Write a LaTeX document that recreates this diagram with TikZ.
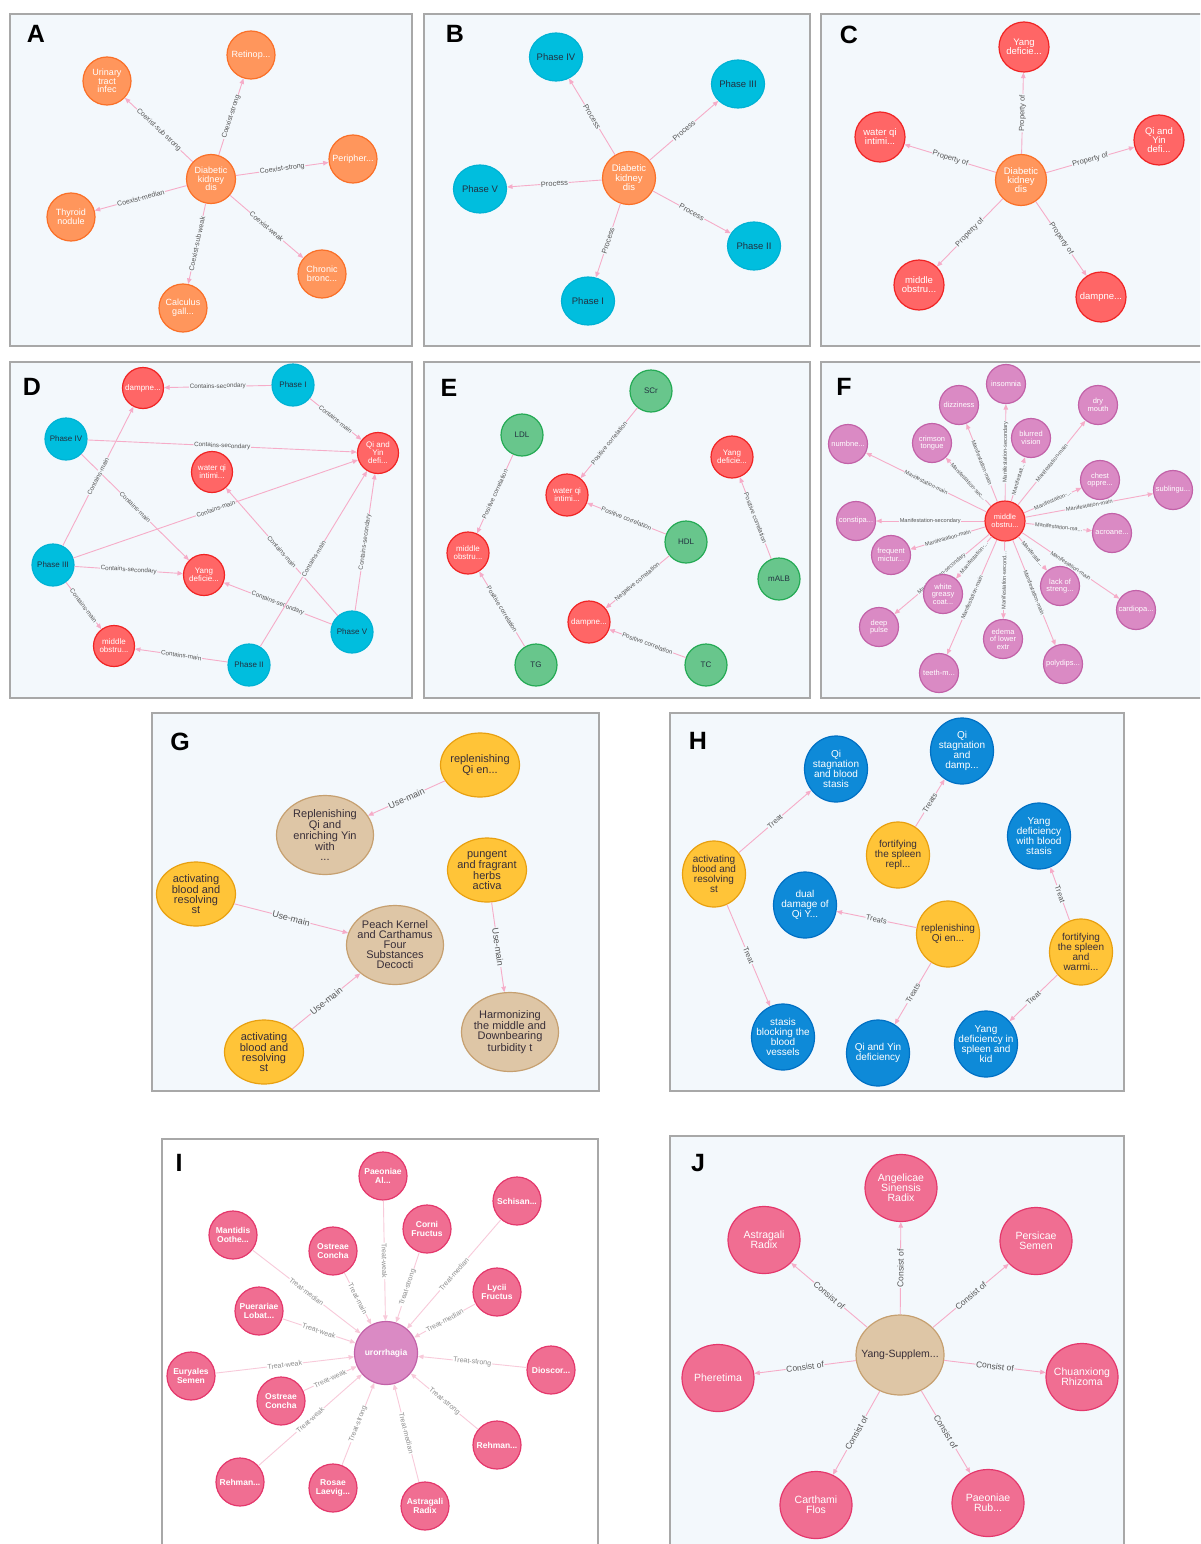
\documentclass[tikz,border=0pt]{standalone}
\usepackage{fontspec}
\setmainfont{Liberation Sans}
\setsansfont{Liberation Sans}
\usetikzlibrary{arrows.meta,shapes.geometric}

\definecolor{panelbg}{RGB}{243,248,252}
\definecolor{panelframe}{RGB}{168,168,168}
\definecolor{edgepink}{RGB}{246,172,200}
\definecolor{edgepale}{RGB}{248,202,218}
\definecolor{labgray}{RGB}{85,85,85}
\definecolor{labpale}{RGB}{140,140,140}
\definecolor{orgfill}{RGB}{255,150,92}
\definecolor{orgdraw}{RGB}{250,112,40}
\definecolor{cyanfill}{RGB}{0,190,222}
\definecolor{cyandraw}{RGB}{0,178,212}
\definecolor{redfill}{RGB}{255,102,102}
\definecolor{reddraw}{RGB}{240,36,36}
\definecolor{grnfill}{RGB}{104,198,140}
\definecolor{grndraw}{RGB}{36,170,84}
\definecolor{orchfill}{RGB}{218,138,196}
\definecolor{orchdraw}{RGB}{194,98,168}
\definecolor{goldfill}{RGB}{255,196,56}
\definecolor{golddraw}{RGB}{232,160,16}
\definecolor{tanfill}{RGB}{222,198,166}
\definecolor{tandraw}{RGB}{198,160,112}
\definecolor{bluefill}{RGB}{14,138,216}
\definecolor{bluedraw}{RGB}{0,112,196}
\definecolor{pinkfill}{RGB}{240,110,146}
\definecolor{pinkdraw}{RGB}{228,56,108}
\definecolor{darktext}{RGB}{34,48,64}
\definecolor{browntext}{RGB}{56,46,56}

\tikzset{
  panel/.style={fill=panelbg, draw=panelframe, line width=1.5pt},
  tag/.style={font=\fontsize{25}{25}\selectfont\bfseries, inner sep=0pt},
  nodefont/.style={font=\fontsize{9}{8.7}\selectfont},
  edgefont/.style={font=\fontsize{7}{7}\selectfont},
  lbltxt/.style={align=center, inner sep=0pt, nodefont},
  wt/.style={label={[lbltxt,text=white]center:{#1}}},
  dk/.style={label={[lbltxt,text=darktext]center:{#1}}},
  bk/.style={label={[lbltxt,text=browntext]center:{#1}}},
  disc/.style={circle, inner sep=0pt, line width=1.2pt, minimum size=#1},
  oval/.style 2 args={ellipse, inner sep=0pt, line width=1.2pt, minimum width=#1, minimum height=#2},
  orangeN/.style={fill=orgfill, draw=orgdraw},
  cyanN/.style={fill=cyanfill, draw=cyandraw},
  redN/.style={fill=redfill, draw=reddraw},
  greenN/.style={fill=grnfill, draw=grndraw},
  orchN/.style={fill=orchfill, draw=orchdraw},
  goldN/.style={fill=goldfill, draw=golddraw},
  tanN/.style={fill=tanfill, draw=tandraw},
  blueN/.style={fill=bluefill, draw=bluedraw},
  pinkN/.style={fill=pinkfill, draw=pinkdraw},
  edge/.style={draw=edgepink, line width=0.9pt, -{Triangle[length=5.5pt,width=4.5pt]}},
  elab/.style={sloped, fill=panelbg, inner sep=0.7pt, text=labgray, edgefont},
}

\begin{document}
\begin{tikzpicture}[x=1pt,y=-1pt]
\useasboundingbox (0,0) rectangle (1200,1544);
\clip (0,0) rectangle (1200,1544);
\fill[white] (0,0) rectangle (1200,1544);

% ---------- frames ----------
\draw[panel] (10,14) rectangle (412,346);
\draw[panel] (424,14) rectangle (810,346);
\draw[panel] (821,14) rectangle (1212,346);
\draw[panel] (10,362) rectangle (412,698);
\draw[panel] (424,362) rectangle (810,698);
\draw[panel] (821,362) rectangle (1212,698);
\draw[panel] (152,713) rectangle (599,1091);
\draw[panel] (670,713) rectangle (1124,1091);
\draw[panel, fill=white] (162,1139) rectangle (598,1560);
\draw[panel] (670,1136) rectangle (1124,1560);

% ---------- A: comorbidities ----------
\begin{scope}[nodefont/.style={font=\fontsize{9}{8.7}\selectfont}, edgefont/.style={font=\fontsize{7}{7}\selectfont}]
\node[tag] (tagA) at (36,34) {A};
\node[disc=49pt, orangeN, wt={Diabetic\\kidney\\dis}] (aC) at (211,179) {};
\node[disc=48pt, orangeN, wt={Retinop...}] (aR) at (251,55) {};
\node[disc=48pt, orangeN, wt={Urinary\\tract\\infec}] (aU) at (107,81) {};
\node[disc=48pt, orangeN, wt={Peripher...}] (aP) at (353,159) {};
\node[disc=48pt, orangeN, wt={Thyroid\\nodule}] (aT) at (71,217) {};
\node[disc=48pt, orangeN, wt={Chronic\\bronc...}] (aB) at (322,274) {};
\node[disc=48pt, orangeN, wt={Calculus\\gall...}] (aG) at (183,308) {};
\draw[edge] (aC) -- node[elab]{Coexist-strong} (aR);
\draw[edge] (aC) -- node[elab]{Coexist-sub strong} (aU);
\draw[edge] (aC) -- node[elab]{Coexist-strong} (aP);
\draw[edge] (aC) -- node[elab]{Coexist-median} (aT);
\draw[edge] (aC) -- node[elab]{Coexist-weak} (aB);
\draw[edge] (aC) -- node[elab]{Coexist-sub weak} (aG);
\end{scope}

% ---------- B: phases ----------
\begin{scope}[nodefont/.style={font=\fontsize{9.5}{9.5}\selectfont}, edgefont/.style={font=\fontsize{7.5}{7.5}\selectfont}]
\node[tag] (tagB) at (455,34) {B};
\node[disc=53pt, orangeN, wt={Diabetic\\kidney\\dis}] (bC) at (629,178) {};
\node[oval={53pt}{48pt}, cyanN, dk={Phase IV}] (bP4) at (556,57) {};
\node[oval={53pt}{48pt}, cyanN, dk={Phase III}] (bP3) at (738,84) {};
\node[oval={53pt}{48pt}, cyanN, dk={Phase V}] (bP5) at (480,189) {};
\node[oval={53pt}{48pt}, cyanN, dk={Phase II}] (bP2) at (754,246) {};
\node[oval={53pt}{48pt}, cyanN, dk={Phase I}] (bP1) at (588,301) {};
\draw[edge] (bC) -- node[elab]{Process} (bP4);
\draw[edge] (bC) -- node[elab]{Process} (bP3);
\draw[edge] (bC) -- node[elab]{Process} (bP5);
\draw[edge] (bC) -- node[elab]{Process} (bP2);
\draw[edge] (bC) -- node[elab]{Process} (bP1);
\end{scope}

% ---------- C: syndrome types ----------
\begin{scope}[nodefont/.style={font=\fontsize{9.5}{9}\selectfont}, edgefont/.style={font=\fontsize{7.5}{7.5}\selectfont}]
\node[tag] (tagC) at (849,35) {C};
\node[disc=51pt, orangeN, wt={Diabetic\\kidney\\dis}] (cC) at (1021,180) {};
\node[disc=50pt, redN, wt={Yang\\deficie...}] (cY) at (1024,47) {};
\node[disc=50pt, redN, wt={water qi\\intimi...}] (cW) at (880,137) {};
\node[disc=50pt, redN, wt={Qi and\\Yin\\defi...}] (cQ) at (1159,140) {};
\node[disc=50pt, redN, wt={middle\\obstru...}] (cM) at (919,285) {};
\node[disc=50pt, redN, wt={dampne...}] (cD) at (1101,297) {};
\draw[edge] (cC) -- node[elab]{Property of} (cY);
\draw[edge] (cC) -- node[elab]{Property of} (cW);
\draw[edge] (cC) -- node[elab]{Property of} (cQ);
\draw[edge] (cC) -- node[elab]{Property of} (cM);
\draw[edge] (cC) -- node[elab]{Property of} (cD);
\end{scope}

% ---------- D: phases and syndromes ----------
\begin{scope}[nodefont/.style={font=\fontsize{8}{8}\selectfont}, edgefont/.style={font=\fontsize{6.3}{6.3}\selectfont}]
\node[tag] (tagD) at (32,387) {D};
\node[disc=41pt, redN, wt={dampne...}] (dD) at (143,388) {};
\node[disc=42pt, cyanN, dk={Phase I}] (dP1) at (293,385) {};
\node[disc=42pt, cyanN, dk={Phase IV}] (dP4) at (66,439) {};
\node[disc=41pt, redN, wt={Qi and\\Yin\\defi...}] (dQ) at (378,453) {};
\node[disc=41pt, redN, wt={water qi\\intimi...}] (dW) at (212,472) {};
\node[disc=42pt, cyanN, dk={Phase III}] (dP3) at (53,565) {};
\node[disc=41pt, redN, wt={Yang\\deficie...}] (dY) at (204,575) {};
\node[disc=41pt, redN, wt={middle\\obstru...}] (dM) at (114,646) {};
\node[disc=42pt, cyanN, dk={Phase II}] (dP2) at (249,665) {};
\node[disc=42pt, cyanN, dk={Phase V}] (dP5) at (352,632) {};
\draw[edge] (dP1) -- node[elab]{Contains-secondary} (dD);
\draw[edge] (dP1) -- node[elab]{Contains-main} (dQ);
\draw[edge] (dP4) -- node[elab]{Contains-secondary} (dQ);
\draw[edge] (dP4) -- node[elab]{Contains-main} (dY);
\draw[edge] (dP3) -- node[elab]{Contains-main} (dD);
\draw[edge] (dP3) -- node[elab]{Contains-main} (dQ);
\draw[edge] (dP3) -- node[elab]{Contains-secondary} (dY);
\draw[edge] (dP3) -- node[elab]{Contains-main} (dM);
\draw[edge] (dP5) -- node[elab]{Contains-main} (dW);
\draw[edge] (dP5) -- node[elab]{Contains-secondary} (dY);
\draw[edge] (dP5) -- node[elab]{Contains-secondary} (dQ);
\draw[edge] (dP2) -- node[elab]{Contains-main} (dM);
\draw[edge] (dP2) -- node[elab]{Contains-main} (dQ);
\end{scope}

% ---------- E: lab indicators ----------
\begin{scope}[nodefont/.style={font=\fontsize{8}{8}\selectfont}, edgefont/.style={font=\fontsize{6.3}{6.3}\selectfont}]
\node[tag] (tagE) at (449,388) {E};
\node[disc=42pt, greenN, dk={SCr}] (eS) at (651,391) {};
\node[disc=42pt, greenN, dk={LDL}] (eL) at (522,435) {};
\node[disc=42pt, redN, wt={Yang\\deficie...}] (eY) at (732,457) {};
\node[disc=42pt, redN, wt={water qi\\intimi...}] (eW) at (567,495) {};
\node[disc=42pt, greenN, dk={HDL}] (eH) at (686,542) {};
\node[disc=42pt, redN, wt={middle\\obstru...}] (eM) at (468,553) {};
\node[disc=42pt, greenN, dk={mALB}] (eA) at (779,579) {};
\node[disc=42pt, redN, wt={dampne...}] (eD) at (589,622) {};
\node[disc=42pt, greenN, dk={TG}] (eT) at (536,665) {};
\node[disc=42pt, greenN, dk={TC}] (eC) at (706,665) {};
\draw[edge] (eS) -- node[elab]{Positive correlation} (eW);
\draw[edge] (eL) -- node[elab]{Positive correlation} (eM);
\draw[edge] (eH) -- node[elab]{Positive correlation} (eW);
\draw[edge] (eH) -- node[elab]{Negative correlation} (eD);
\draw[edge] (eA) -- node[elab]{Positive correlation} (eY);
\draw[edge] (eT) -- node[elab]{Positive correlation} (eM);
\draw[edge] (eC) -- node[elab]{Positive correlation} (eD);
\end{scope}

% ---------- F: manifestations ----------
\begin{scope}[nodefont/.style={font=\fontsize{7.5}{7.5}\selectfont}, edgefont/.style={font=\fontsize{5.6}{5.6}\selectfont}]
\node[tag] (tagF) at (844,387) {F};
\node[disc=40pt, redN, wt={middle\\obstru...}] (fC) at (1005,521) {};
\node[disc=39pt, orchN, wt={insomnia}] (f1) at (1006,384) {};
\node[disc=39pt, orchN, wt={dizziness}] (f2) at (959,405) {};
\node[disc=39pt, orchN, wt={crimson\\tongue}] (f3) at (932,443) {};
\node[disc=39pt, orchN, wt={numbne...}] (f4) at (848,444) {};
\node[disc=39pt, orchN, wt={constipa...}] (f5) at (856,521) {};
\node[disc=39pt, orchN, wt={frequent\\mictur...}] (f6) at (891,555) {};
\node[disc=39pt, orchN, wt={deep\\pulse}] (f8) at (879,627) {};
\node[disc=39pt, orchN, wt={teeth-m...}] (f9) at (939,673) {};
\node[disc=39pt, orchN, wt={edema\\of lower\\extr}] (f10) at (1003,639) {};
\node[disc=39pt, orchN, wt={blurred\\vision}] (f11) at (1031,438) {};
\node[disc=39pt, orchN, wt={dry\\mouth}] (f12) at (1098,405) {};
\node[disc=39pt, orchN, wt={chest\\oppre...}] (f13) at (1100,480) {};
\node[disc=39pt, orchN, wt={sublingu...}] (f14) at (1173,490) {};
\node[disc=39pt, orchN, wt={acroane...}] (f15) at (1112,533) {};
\node[disc=39pt, orchN, wt={lack of\\streng...}] (f16) at (1060,586) {};
\node[disc=39pt, orchN, wt={cardiopa...}] (f17) at (1136,610) {};
\node[disc=39pt, orchN, wt={polydips...}] (f18) at (1063,664) {};
\draw[edge] (fC) -- node[elab]{Manifestation-secondary} (f1);
\draw[edge] (fC) -- node[elab]{Manifestation-main} (f2);
\draw[edge] (fC) -- node[elab]{Manifestation-sec...} (f3);
\draw[edge] (fC) -- node[elab]{Manifestation-main} (f4);
\draw[edge] (fC) -- node[elab]{Manifestation-secondary} (f5);
\draw[edge] (fC) -- node[elab]{Manifestation-main} (f6);
\draw[edge] (fC) -- node[elab]{Manifestation-secondary} (f8);
\draw[edge] (fC) -- node[elab]{Manifestation-main} (f9);
\draw[edge] (fC) -- node[elab]{Manifestation-second...} (f10);
\draw[edge] (fC) -- node[elab]{Manifestati...} (f11);
\draw[edge] (fC) -- node[elab]{Manifestation-main} (f12);
\draw[edge] (fC) -- node[elab]{Manifestation-...} (f13);
\draw[edge] (fC) -- node[elab]{Manifestation-main} (f14);
\draw[edge] (fC) -- node[elab]{Manifestation-ma...} (f15);
\draw[edge] (fC) -- node[elab]{Manifestat...} (f16);
\draw[edge] (fC) -- node[elab]{Manifestation-main} (f17);
\draw[edge] (fC) -- node[elab]{Manifestation-main} (f18);
\node[disc=39pt, orchN, wt={white\\greasy\\coat...}] (f7) at (943,594) {};
\draw[edge] (fC) -- node[elab]{Manifestation-...} (f7);
\end{scope}

% ---------- G: therapies and formulas ----------
\begin{scope}[nodefont/.style={font=\fontsize{11}{10}\selectfont}, edgefont/.style={font=\fontsize{9}{9}\selectfont}]
\node[tag] (tagG) at (180,742) {G};
\node[oval={79pt}{64pt}, goldN, bk={replenishing\\Qi en...}] (gR1) at (480,765) {};
\node[oval={97pt}{79pt}, tanN, bk={Replenishing\\Qi and\\enriching Yin\\with\\...}] (gR2) at (325,835) {};
\node[oval={79pt}{64pt}, goldN, bk={pungent\\and fragrant\\herbs\\activa}] (gP) at (487,870) {};
\node[oval={79pt}{64pt}, goldN, bk={activating\\blood and\\resolving\\st}] (gA1) at (196,894) {};
\node[oval={97pt}{79pt}, tanN, bk={Peach Kernel\\and Carthamus\\Four\\Substances\\Decocti}] (gK) at (395,945) {};
\node[oval={79pt}{64pt}, goldN, bk={activating\\blood and\\resolving\\st}] (gA2) at (264,1052) {};
\node[oval={97pt}{79pt}, tanN, bk={Harmonizing\\the middle and\\Downbearing\\turbidity t}] (gH) at (510,1032) {};
\draw[edge] (gR1) -- node[elab]{Use-main} (gR2);
\draw[edge] (gA1) -- node[elab]{Use-main} (gK);
\draw[edge] (gA2) -- node[elab]{Use-main} (gK);
\draw[edge] (gP) -- node[elab]{Use-main} (gH);
\end{scope}

% ---------- H: therapies and syndromes ----------
\begin{scope}[nodefont/.style={font=\fontsize{10}{10}\selectfont}, edgefont/.style={font=\fontsize{7.5}{7.5}\selectfont}]
\node[tag] (tagH) at (698,741) {H};
\node[oval={63pt}{66pt}, blueN, wt={Qi\\stagnation\\and blood\\stasis}] (hQ1) at (836,769) {};
\node[oval={63pt}{66pt}, blueN, wt={Qi\\stagnation\\and\\damp...}] (hQ2) at (962,751) {};
\node[oval={63pt}{66pt}, blueN, wt={Yang\\deficiency\\with blood\\stasis}] (hY1) at (1039,836) {};
\node[oval={63pt}{66pt}, goldN, bk={activating\\blood and\\resolving\\st}] (hA) at (714,874) {};
\node[oval={63pt}{66pt}, goldN, bk={fortifying\\the spleen\\repl...}] (hF1) at (898,855) {};
\node[oval={63pt}{66pt}, blueN, wt={dual\\damage of\\Qi Y...}] (hD) at (805,905) {};
\node[oval={63pt}{66pt}, goldN, bk={replenishing\\Qi en...}] (hR) at (948,934) {};
\node[oval={63pt}{66pt}, goldN, bk={fortifying\\the spleen\\and\\warmi...}] (hF2) at (1081,952) {};
\node[oval={63pt}{66pt}, blueN, wt={stasis\\blocking the\\blood\\vessels}] (hS) at (783,1037) {};
\node[oval={63pt}{66pt}, blueN, wt={Qi and Yin\\deficiency}] (hQY) at (878,1053) {};
\node[oval={63pt}{66pt}, blueN, wt={Yang\\deficiency in\\spleen and\\kid}] (hY2) at (986,1044) {};
\draw[edge] (hA) -- node[elab]{Treat} (hQ1);
\draw[edge] (hA) -- node[elab]{Treat} (hS);
\draw[edge] (hF1) -- node[elab]{Treats} (hQ2);
\draw[edge] (hR) -- node[elab]{Treats} (hD);
\draw[edge] (hR) -- node[elab]{Treats} (hQY);
\draw[edge] (hF2) -- node[elab]{Treat} (hY1);
\draw[edge] (hF2) -- node[elab]{Treat} (hY2);
\end{scope}

% ---------- I: herbs for urorrhagia ----------
\begin{scope}[nodefont/.style={font=\fontsize{8.5}{9.3}\selectfont\bfseries}, edgefont/.style={font=\fontsize{7}{7}\selectfont},
  edge/.append style={draw=edgepale}, elab/.append style={fill=white, text=labpale}]
\node[tag] (tagI) at (179,1163) {I};
\node[disc=63pt, orchN, wt={urorrhagia}] (iC) at (386,1353) {};
\node[disc=48pt, pinkN, wt={Paeoniae\\Al...}] (iPa) at (383,1176) {};
\node[disc=48pt, pinkN, wt={Schisan...}] (iSc) at (517,1201) {};
\node[disc=48pt, pinkN, wt={Corni\\Fructus}] (iCo) at (427,1229) {};
\node[disc=48pt, pinkN, wt={Lycii\\Fructus}] (iLy) at (497,1292) {};
\node[disc=48pt, pinkN, wt={Dioscor...}] (iDi) at (551,1370) {};
\node[disc=48pt, pinkN, wt={Rehman...}] (iRr) at (497,1445) {};
\node[disc=48pt, pinkN, wt={Astragali\\Radix}] (iAs) at (425,1506) {};
\node[disc=48pt, pinkN, wt={Rosae\\Laevig...}] (iRo) at (333,1488) {};
\node[disc=48pt, pinkN, wt={Rehman...}] (iRl) at (240,1482) {};
\node[disc=48pt, pinkN, wt={Ostreae\\Concha}] (iO2) at (281,1401) {};
\node[disc=48pt, pinkN, wt={Euryales\\Semen}] (iEu) at (191,1376) {};
\node[disc=48pt, pinkN, wt={Puerariae\\Lobat...}] (iPu) at (259,1311) {};
\node[disc=48pt, pinkN, wt={Mantidis\\Oothe...}] (iMa) at (233,1235) {};
\node[disc=48pt, pinkN, wt={Ostreae\\Concha}] (iO1) at (333,1251) {};
\draw[edge] (iPa) -- node[elab]{Treat-weak} (iC);
\draw[edge] (iCo) -- node[elab]{Treat-strong} (iC);
\draw[edge] (iSc) -- node[elab]{Treat-median} (iC);
\draw[edge] (iLy) -- node[elab]{Treat-median} (iC);
\draw[edge] (iDi) -- node[elab]{Treat-strong} (iC);
\draw[edge] (iRr) -- node[elab]{Treat-strong} (iC);
\draw[edge] (iAs) -- node[elab]{Treat-median} (iC);
\draw[edge] (iRo) -- node[elab]{Treat-strong} (iC);
\draw[edge] (iRl) -- node[elab]{Treat-weak} (iC);
\draw[edge] (iO2) -- node[elab]{Treat-weak} (iC);
\draw[edge] (iEu) -- node[elab]{Treat-weak} (iC);
\draw[edge] (iPu) -- node[elab]{Treat-weak} (iC);
\draw[edge] (iMa) -- node[elab]{Treat-median} (iC);
\draw[edge] (iO1) -- node[elab]{Treat-main} (iC);
\end{scope}

% ---------- J: formula composition ----------
\begin{scope}[nodefont/.style={font=\fontsize{10.5}{10}\selectfont}, edgefont/.style={font=\fontsize{8.5}{8.5}\selectfont}]
\node[tag] (tagJ) at (698,1163) {J};
\node[oval={88pt}{80pt}, tanN, bk={Yang-Supplem...}] (jC) at (900,1355) {};
\node[oval={72pt}{67pt}, pinkN, wt={Angelicae\\Sinensis\\Radix}] (jAn) at (901,1188) {};
\node[oval={72pt}{67pt}, pinkN, wt={Astragali\\Radix}] (jAs) at (764,1240) {};
\node[oval={72pt}{67pt}, pinkN, wt={Persicae\\Semen}] (jPe) at (1036,1241) {};
\node[oval={72pt}{67pt}, pinkN, wt={Pheretima}] (jPh) at (718,1378) {};
\node[oval={72pt}{67pt}, pinkN, wt={Chuanxiong\\Rhizoma}] (jCh) at (1082,1377) {};
\node[oval={72pt}{67pt}, pinkN, wt={Carthami\\Flos}] (jCa) at (816,1505) {};
\node[oval={72pt}{67pt}, pinkN, wt={Paeoniae\\Rub...}] (jPa) at (988,1503) {};
\draw[edge] (jC) -- node[elab]{Consist of} (jAn);
\draw[edge] (jC) -- node[elab]{Consist of} (jAs);
\draw[edge] (jC) -- node[elab]{Consist of} (jPe);
\draw[edge] (jC) -- node[elab]{Consist of} (jPh);
\draw[edge] (jC) -- node[elab]{Consist of} (jCh);
\draw[edge] (jC) -- node[elab]{Consist of} (jCa);
\draw[edge] (jC) -- node[elab]{Consist of} (jPa);
\end{scope}

\end{tikzpicture}
\end{document}
